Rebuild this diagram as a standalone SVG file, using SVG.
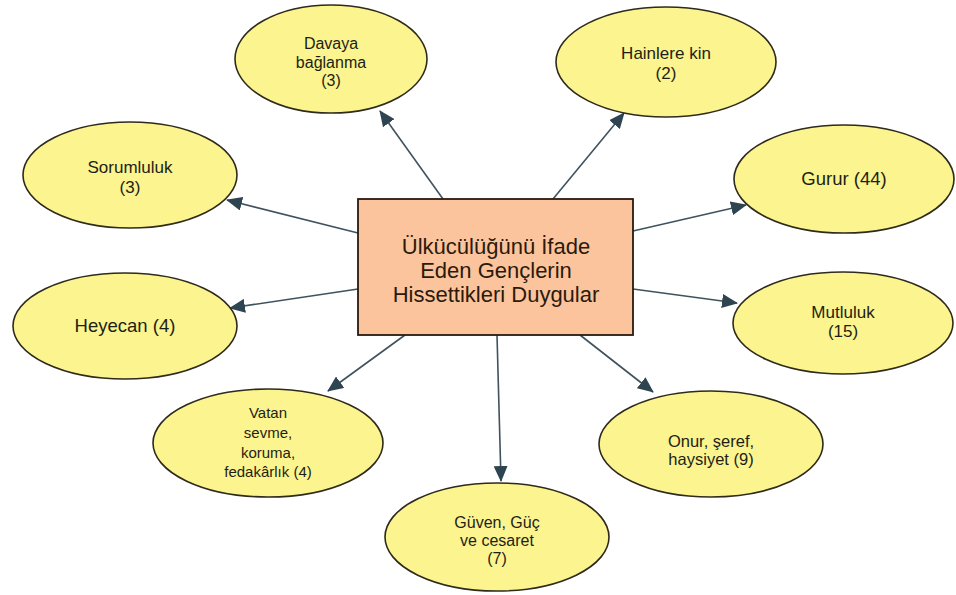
<svg xmlns="http://www.w3.org/2000/svg" width="956" height="595" viewBox="0 0 956 595">
<style>
.node ellipse{fill:#fbf48f;stroke:#2e2a1c;stroke-width:1.6}
.node text{font-family:"Liberation Sans",Arial,sans-serif;fill:#1e1e14;text-anchor:middle}
.center rect{fill:#fbc49c;stroke:#2a1a10;stroke-width:1.8}
.center text{font-family:"Liberation Sans",Arial,sans-serif;font-size:22px;fill:#2b1a0c;text-anchor:middle}
.edges line{stroke:#3f525e;stroke-width:1.6;marker-end:url(#arr)}
</style>
<defs>
<marker id="arr" markerUnits="userSpaceOnUse" markerWidth="16" markerHeight="14" viewBox="0 0 16 14" refX="15" refY="7" orient="auto">
<path d="M0,0 L16,7 L0,14 Z" fill="#2f4451"/>
</marker>
</defs>
<rect width="956" height="595" fill="#ffffff"/>
<g class="edges">
<line x1="443" y1="199" x2="380" y2="111"/>
<line x1="553" y1="199" x2="624" y2="113"/>
<line x1="358" y1="233" x2="227" y2="200"/>
<line x1="633" y1="231" x2="746" y2="205"/>
<line x1="358" y1="289" x2="230" y2="308"/>
<line x1="633" y1="289" x2="737" y2="303"/>
<line x1="405" y1="335" x2="328" y2="391"/>
<line x1="497" y1="335" x2="501" y2="481"/>
<line x1="580" y1="335" x2="653" y2="392"/>
</g>
<g id="center" class="center">
<rect x="358" y="199" width="275" height="136"/>
<text x="496" y="254">Ülkücülüğünü İfade</text>
<text x="496" y="278">Eden Gençlerin</text>
<text x="496" y="302">Hissettikleri Duygular</text>
</g>
<g id="davaya" class="node" font-size="16">
<ellipse cx="331" cy="59" rx="96" ry="54"/>
<text x="331" y="48.5">Davaya</text>
<text x="331" y="67.5">bağlanma</text>
<text x="331" y="86">(3)</text>
</g>
<g id="hainlere" class="node" font-size="17">
<ellipse cx="666" cy="62" rx="110" ry="55"/>
<text x="666" y="59">Hainlere kin</text>
<text x="666" y="79">(2)</text>
</g>
<g id="sorumluluk" class="node" font-size="17">
<ellipse cx="130" cy="175" rx="107" ry="53"/>
<text x="130" y="173">Sorumluluk</text>
<text x="130" y="193">(3)</text>
</g>
<g id="gurur" class="node" font-size="18.5">
<ellipse cx="844" cy="179" rx="110" ry="54"/>
<text x="844" y="185">Gurur (44)</text>
</g>
<g id="heyecan" class="node" font-size="18.5">
<ellipse cx="125" cy="326" rx="112" ry="53"/>
<text x="125" y="332">Heyecan (4)</text>
</g>
<g id="mutluluk" class="node" font-size="17">
<ellipse cx="843" cy="323" rx="110" ry="51"/>
<text x="843" y="318">Mutluluk</text>
<text x="843" y="337">(15)</text>
</g>
<g id="vatan" class="node" font-size="15">
<ellipse cx="268" cy="443" rx="115" ry="54"/>
<text x="268" y="418">Vatan</text>
<text x="268" y="438">sevme,</text>
<text x="268" y="458">koruma,</text>
<text x="268" y="477">fedakârlık (4)</text>
</g>
<g id="guven" class="node" font-size="16">
<ellipse cx="497" cy="537" rx="112" ry="54"/>
<text x="497" y="528">Güven, Güç</text>
<text x="497" y="545.5">ve cesaret</text>
<text x="497" y="564">(7)</text>
</g>
<g id="onur" class="node" font-size="16.5">
<ellipse cx="711" cy="444" rx="112" ry="53"/>
<text x="711" y="447">Onur, şeref,</text>
<text x="711" y="465">haysiyet (9)</text>
</g>
</svg>
